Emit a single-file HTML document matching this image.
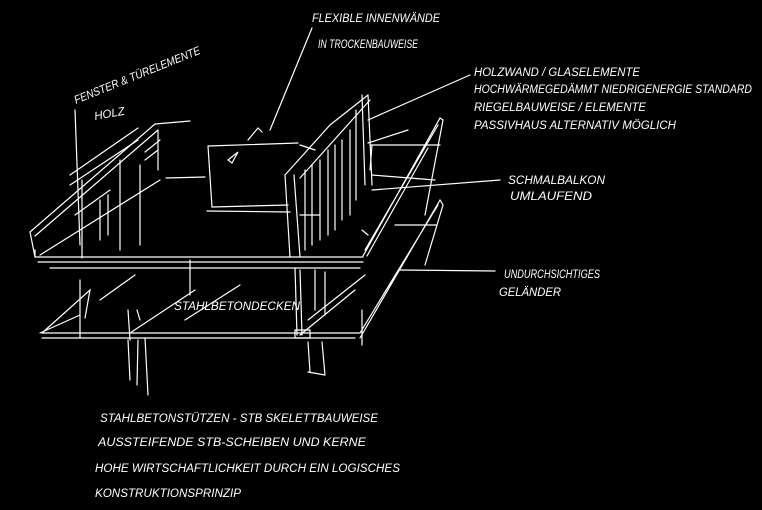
<!DOCTYPE html>
<html><head><meta charset="utf-8"><style>
html,body{margin:0;padding:0;background:#000;}
svg{display:block}
text{fill:#fff;font-family:"Liberation Sans",sans-serif;font-style:italic;font-size:11.5px}
</style></head><body>
<svg width="762" height="510" viewBox="0 0 762 510" xmlns="http://www.w3.org/2000/svg">
<g stroke="#fff" stroke-width="1.2" fill="none" stroke-linecap="round">
<path d="M35,257 L363,257 M38,262 L363,262 M35,257 L35,250 M50,268 L360,268"/>
<path d="M30,232 L155,124 L190,121 M35,236 L158,130 M30,232 L35,257 M40,255 L160,180"/>
<path d="M82,258 L82,180 M120,250 L120,160 M140,245 L140,165 M158,130 L158,170 M100,200 L100,240 M108,195 L108,235"/>
<path d="M70,175 L138,128 M70,185 L138,140 M75,215 L110,190"/>
<path d="M145,152 L160,140 M145,160 L158,150"/>
<path d="M208,146 L298,143 M208,146 L212,207 L288,205 M207,211 L290,212 M166,178 L205,177"/>
<path d="M248,140 L258,128 L262,132 M228,160 L238,152 L232,163 Z"/>
<path d="M285,175 L290,257 M294,175 L300,257 M285,175 L330,125 L368,95 M300,178 L370,100 M362,95 L365,185 M368,95 L372,185"/>
<path d="M305,170 L305,250 M312,165 L312,245 M320,160 L320,240 M328,150 L328,235 M335,145 L335,230 M342,140 L342,220 M350,130 L350,215 M356,110 L356,200"/>
<path d="M300,215 L320,215 M372,145 L370,170 M370,145 L440,145 M372,175 L435,180 M300,145 L315,150"/>
<path d="M363,256 L440,118 L443,120 L425,215 M365,250 L438,125 M367,256 L428,148 M362,230 L368,235 M368,143 L408,130"/>
<path d="M42,333 L360,333 M42,338 L355,338 M42,333 L90,290 L85,318 M80,315 L40,333 M130,333 L195,290 M100,300 L135,275"/>
<path d="M80,338 L80,280 M190,260 L190,295 M240,285 L185,320"/>
<path d="M295,268 L297,335 M300,270 L302,335 M315,270 L315,310 M325,272 L325,315 M300,335 L355,290 M308,320 L365,275"/>
<path d="M295,330 L310,330 L310,338 L295,338 Z"/>
<path d="M360,338 L440,200 L443,205 L425,265 M360,333 L438,205 M362,310 L362,345 M395,225 L436,225"/>
<path d="M128,340 L130,380 M138,340 L137,385 M145,338 L148,395 M308,342 L310,372 M322,342 L325,375 M308,372 L325,375"/>
<path d="M128,310 L130,340 M137,310 L140,320"/>
<path d="M270,130 L312,28 M368,120 L470,75 M372,190 L500,180 M400,270 L495,271 M75,110 L80,245"/>
</g>
<text x="312" y="22" textLength="128" lengthAdjust="spacingAndGlyphs">FLEXIBLE  INNENWÄNDE</text>
<text x="318" y="48" textLength="100" lengthAdjust="spacingAndGlyphs">IN TROCKENBAUWEISE</text>
<text x="76" y="104" transform="rotate(-22 76 104)" textLength="135" lengthAdjust="spacingAndGlyphs">FENSTER &amp; TÜRELEMENTE</text>
<text x="95" y="120" transform="rotate(-10 95 120)">HOLZ</text>
<text x="474" y="76" textLength="166" lengthAdjust="spacingAndGlyphs">HOLZWAND / GLASELEMENTE</text>
<text x="474" y="93" textLength="278" lengthAdjust="spacingAndGlyphs">HOCHWÄRMEGEDÄMMT   NIEDRIGENERGIE STANDARD</text>
<text x="474" y="111" textLength="172" lengthAdjust="spacingAndGlyphs">RIEGELBAUWEISE / ELEMENTE</text>
<text x="474" y="129" textLength="202" lengthAdjust="spacingAndGlyphs">PASSIVHAUS ALTERNATIV MÖGLICH</text>
<text x="508" y="184" textLength="97" lengthAdjust="spacingAndGlyphs">SCHMALBALKON</text>
<text x="510" y="200" textLength="82" lengthAdjust="spacingAndGlyphs">UMLAUFEND</text>
<text x="504" y="278" textLength="96" lengthAdjust="spacingAndGlyphs">UNDURCHSICHTIGES</text>
<text x="499" y="296" textLength="62" lengthAdjust="spacingAndGlyphs">GELÄNDER</text>
<text x="174" y="310" textLength="126" lengthAdjust="spacingAndGlyphs">STAHLBETONDECKEN</text>
<text x="100" y="422" textLength="278" lengthAdjust="spacingAndGlyphs">STAHLBETONSTÜTZEN  - STB SKELETTBAUWEISE</text>
<text x="98" y="446" textLength="268" lengthAdjust="spacingAndGlyphs">AUSSTEIFENDE STB-SCHEIBEN UND KERNE</text>
<text x="95" y="472" textLength="305" lengthAdjust="spacingAndGlyphs">HOHE WIRTSCHAFTLICHKEIT DURCH EIN LOGISCHES</text>
<text x="95" y="497" textLength="146" lengthAdjust="spacingAndGlyphs">KONSTRUKTIONSPRINZIP</text>
</svg>
</body></html>
